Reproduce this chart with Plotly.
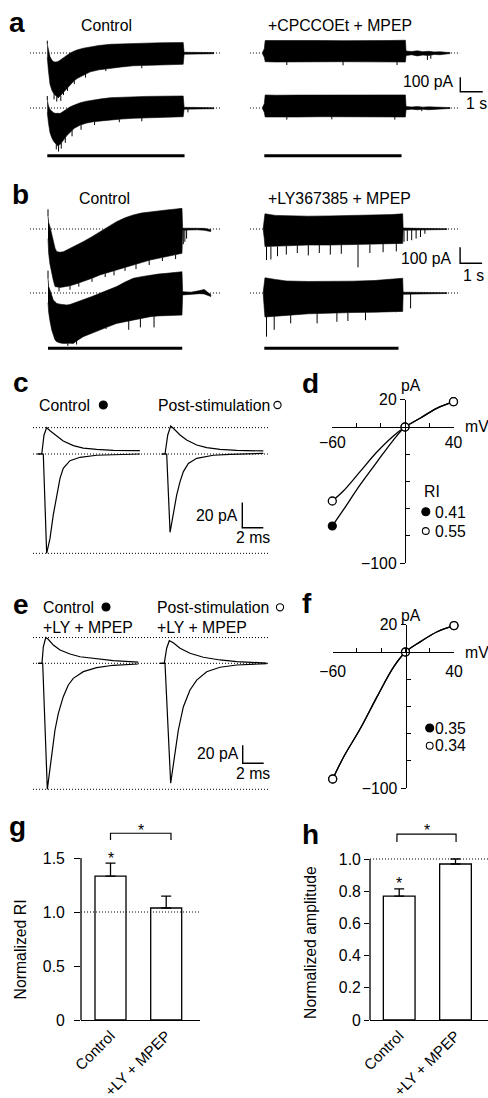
import numpy as np
import plotly.graph_objects as go

W, H = 488, 1098
FONT = "Liberation Sans, Arial, Helvetica, sans-serif"
BLK = "black"
FS = 15.8      # text size
LS = 28        # panel letter size

# ======================= DATA =======================
# Panels a/b: sweep envelopes (time in s after stimulus onset, current in pA)
STIM = [0.0, 6.1]          # stimulation period (s)

a1_t = [0.00, 0.05, 0.12, 0.20, 0.28, 0.36, 0.45, 0.55, 0.65, 0.75, 0.87, 1.00, 1.15, 1.32, 1.60, 1.91, 2.30, 2.80, 3.30, 3.82, 4.40, 5.00, 5.50, 6.04, 6.08, 6.50, 7.00, 7.40]
a1_up = [60, 20, -25, -48, -60, -62, -60, -52, -40, -28, -14, -2, 10, 21, 33, 43, 52, 60, 64, 67, 68, 70, 71, 72, 5, 5, 4, 3]
a1_lo = [-30, -120, -215, -255, -280, -295, -305, -300, -285, -262, -244, -222, -198, -176, -152, -130, -116, -106, -96, -88, -86, -83, -80, -78, -8, -8, -6, -5]
a1_spk_t = [0.00, 0.30, 0.42, 0.50, 0.60, 0.72, 0.90, 1.20, 1.70, 2.60, 4.20]
a1_spk_v = [85, -320, -335, -310, -330, -290, -262, -215, -170, -125, -105]

a2_t = [0.00, 0.05, 0.12, 0.20, 0.28, 0.36, 0.45, 0.58, 0.72, 0.87, 1.02, 1.20, 1.47, 1.75, 2.06, 2.40, 2.80, 3.30, 3.82, 4.40, 5.00, 5.50, 6.04, 6.08, 6.50, 7.00, 7.40]
a2_up = [55, 15, -10, -25, -33, -37, -38, -37, -22, -4, 8, 20, 37, 47, 57, 63, 71, 75, 78, 80, 81, 82, 83, 5, 4, 3, 2]
a2_lo = [-30, -100, -170, -205, -230, -244, -260, -250, -221, -190, -164, -140, -117, -104, -94, -88, -83, -76, -71, -68, -64, -62, -60, -8, -7, -6, -5]
a2_spk_t = [0.00, 0.40, 0.50, 0.62, 0.80, 1.10, 1.50, 2.10, 3.20, 4.20, 6.25]
a2_spk_v = [83, -285, -300, -280, -240, -195, -150, -118, -98, -92, -30]

a3_t = [-0.08, 0.00, 0.04, 0.50, 1.50, 2.50, 3.50, 4.50, 5.50, 6.27, 6.30, 6.55, 6.80, 7.05, 7.30, 7.55, 7.80, 8.05, 8.25]
a3_up = [3, 30, 86, 85, 84, 86, 85, 84, 86, 88, 14, 10, 15, 9, 12, 7, 9, 5, 3]
a3_lo = [-5, -30, -60, -62, -60, -62, -60, -61, -60, -62, -18, -12, -20, -14, -18, -10, -12, -8, -4]
a3_spk_t = [1.00, 3.50, 5.90, 7.25, 7.40]
a3_spk_v = [-83, -85, -83, -48, -40]

a4_t = a3_t
a4_up = [3, 30, 90, 88, 89, 90, 88, 89, 90, 90, 10, 7, 10, 6, 8, 5, 6, 4, 3]
a4_lo = [-5, -30, -62, -60, -62, -60, -62, -60, -61, -62, -12, -8, -12, -9, -12, -7, -8, -5, -4]
a4_spk_t = [1.00, 3.00, 5.80, 7.00]
a4_spk_v = [-80, -78, -80, -22]

b1_t = [0.00, 0.03, 0.09, 0.17, 0.24, 0.32, 0.40, 0.55, 0.70, 0.85, 1.00, 1.30, 1.60, 2.00, 2.36, 2.75, 3.12, 3.50, 3.88, 4.25, 4.64, 5.00, 5.40, 5.75, 6.09, 6.12, 6.40, 6.80, 7.10, 7.40]
b1_up = [80, 40, 14, -40, -89, -120, -142, -145, -142, -132, -120, -100, -79, -48, -17, 15, 46, 70, 88, 100, 108, 114, 119, 124, 129, 5, 6, 6, 4, -4]
b1_lo = [-60, -152, -220, -277, -320, -360, -362, -365, -362, -360, -355, -342, -330, -308, -287, -272, -256, -240, -225, -210, -194, -183, -173, -162, -152, -10, -6, -5, -8, -16]
b1_spk_t = [0.00, 0.50, 1.00, 1.40, 2.00, 2.60, 3.00, 3.50, 4.00, 4.60, 5.20, 5.80, 6.15, 6.22, 6.30]
b1_spk_v = [123, -390, -380, -360, -330, -300, -290, -262, -250, -225, -200, -188, -95, -80, -60]

b2_t = [0.00, 0.03, 0.09, 0.17, 0.24, 0.32, 0.40, 0.55, 0.70, 0.85, 1.00, 1.15, 1.30, 1.60, 2.00, 2.36, 2.75, 3.12, 3.50, 3.88, 4.25, 4.64, 5.00, 5.40, 5.75, 6.09, 6.12, 6.50, 6.90, 7.10, 7.30, 7.40]
b2_up = [90, 40, 19, -20, -44, -55, -65, -70, -73, -75, -72, -65, -58, -44, -22, -2, 20, 40, 68, 92, 102, 112, 118, 123, 128, 133, 8, 5, 15, 22, 0, -10]
b2_lo = [-60, -120, -175, -231, -265, -294, -305, -312, -315, -315, -314, -315, -300, -273, -250, -231, -210, -190, -178, -169, -158, -148, -143, -140, -139, -138, -12, -8, -4, -6, -18, -22]
b2_spk_t = [0.00, 0.90, 1.30, 2.64, 3.67, 4.20, 4.82]
b2_spk_v = [140, -330, -322, -225, -230, -215, -215]

b3_t = [-0.05, 0.00, 0.03, 0.50, 1.00, 2.00, 3.00, 4.00, 5.00, 5.80, 6.29, 6.31, 7.00, 7.50, 8.30]
b3_up = [3, 60, 95, 85, 82, 80, 82, 84, 86, 90, 95, 6, 4, 3, 2]
b3_lo = [-3, -60, -110, -110, -105, -100, -100, -98, -95, -92, -90, -8, -6, -5, -3]
b3_spk_t = [0.10, 0.30, 0.60, 1.00, 1.50, 2.00, 2.50, 3.00, 3.50, 4.26, 4.80, 5.40, 6.00, 6.35, 6.50, 6.70, 6.90, 7.10, 7.30]
b3_spk_v = [-194, -190, -170, -160, -150, -165, -150, -160, -155, -240, -150, -145, -140, -80, -75, -70, -60, -50, -30]

b4_t = b3_t
b4_up = [3, 60, 95, 85, 75, 72, 72, 74, 78, 85, 92, 5, 4, 3, 2]
b4_lo = [-3, -100, -150, -145, -140, -130, -125, -122, -120, -118, -115, -8, -6, -5, -3]
b4_spk_t = [0.10, 0.45, 1.20, 2.40, 3.30, 3.80, 4.60, 6.00, 6.65]
b4_spk_v = [-273, -230, -190, -190, -180, -175, -170, -120, -96]

# Panel c: EPSCs (time ms, current pA) at -60 mV (neg) and +40 mV (pos)
c_ctl_neg_t = [-0.57, 0, 0.32, 0.64, 0.95, 1.27, 1.59, 1.90, 2.54, 3.50, 5.08, 6.67, 9.2]
c_ctl_neg = [0, 0, -78.4, -66.6, -48.1, -32.4, -19.2, -11.3, -5.3, -2.6, -1.0, -0.6, 0]
c_ctl_pos_t = [-0.57, -0.15, 0.07, 0.32, 0.64, 1.27, 1.90, 2.86, 3.81, 5.08, 6.67, 9.2]
c_ctl_pos = [0, 0, 15, 20.8, 18.4, 14.2, 10.3, 6.6, 4.7, 3.7, 2.9, 2.6]
c_post_neg_t = [-0.48, 0, 0.32, 0.63, 0.95, 1.27, 1.59, 2.06, 2.86, 4.44, 6.03, 9.2]
c_post_neg = [0, 0, -61.8, -48.1, -32.4, -21.8, -13.9, -7.4, -3.4, -1.0, -0.3, 0.5]
c_post_pos_t = [-0.48, -0.16, 0.10, 0.38, 0.63, 1.27, 1.90, 2.86, 3.81, 5.08, 6.67, 9.2]
c_post_pos = [0, 0, 15, 22.1, 20.3, 15, 11, 7.1, 5, 3.7, 2.9, 2.4]

# Panel e: EPSCs with LY367385 + MPEP
e_ctl_neg_t = [-0.42, 0, 0.44, 0.86, 1.17, 1.49, 1.96, 2.44, 2.91, 3.87, 5.14, 6.72, 9.1]
e_ctl_neg = [0, 0, -140, -103.8, -74.1, -55.6, -37.1, -24.1, -16.7, -9.3, -4.9, -2.2, -0.8]
e_ctl_pos_t = [-0.42, -0.07, 0.06, 0.29, 0.53, 1.01, 1.65, 2.60, 3.55, 5.14, 6.72, 9.1]
e_ctl_pos = [0, 0, 18.4, 28.6, 26.7, 20.3, 14.8, 10.3, 7.3, 4.8, 2.9, 1.4]
e_post_neg_t = [-0.48, 0, 0.54, 0.95, 1.27, 1.75, 2.38, 3.02, 3.97, 5.24, 6.83, 9.68]
e_post_neg = [0, 0, -133.3, -100, -74.1, -48.2, -29.6, -18.6, -9.3, -4.4, -1.9, -0.4]
e_post_pos_t = [-0.48, -0.07, 0.16, 0.41, 0.79, 1.43, 2.38, 3.65, 5.24, 6.83, 9.68]
e_post_pos = [0, 0, 16.7, 25.1, 22.9, 16.7, 11.1, 6.7, 3.7, 1.8, 0.3]

# Panels d/f: I-V relations (mV, pA)
iv_mv = [-60, -50.9, -37.1, -23.4, -9.6, 0, 12.4, 26.1, 40]
d_ctl = [-72.8, -61, -42.6, -26, -9.6, 0, 6.4, 13.7, 18.6]
d_post = [-54.4, -47.1, -32.8, -18.6, -6.6, 0, 6.4, 13.7, 18.6]
f_ctl = [-93.4, -77, -56.1, -32.8, -10.8, 0, 7.6, 14.9, 19.4]
f_post = [-93.4, -77, -56.1, -32.8, -10.8, 0, 7.6, 14.9, 19.4]
pt_mv = [-60, 0, 40]
d_ctl_pts = [-72.8, 0, 18.6]
d_post_pts = [-54.4, 0, 18.6]
f_ctl_pts = [-93.4, 0, 19.4]
f_post_pts = [-93.4, 0, 19.4]
d_RI = ["0.41", "0.55"]
f_RI = ["0.35", "0.34"]

# Panels g/h: bars
groups = ["Control", "+LY + MPEP"]
g_val = [1.333, 1.037]
g_err = [0.12, 0.11]
h_val = [0.77, 0.969]
h_err = [0.045, 0.031]

# ======================= HELPERS =======================
def xdom(p0, p1):
    return [p0 / W, p1 / W]

def ydom(top, bot):
    return [1 - bot / H, 1 - top / H]

def xrng(p0, p1, pref, vref, s):
    return [vref + (p0 - pref) / s, vref + (p1 - pref) / s]

def yrng(top, bot, pref, vref, s):
    return [vref - (bot - pref) / s, vref + (pref - top) / s]

layout = {}
traces = []
shapes = []
annotations = []

def add_axes(n, xbox, ybox, xr, yr):
    s = "" if n == 1 else str(n)
    layout["xaxis" + s] = dict(domain=xdom(*xbox), range=xr, anchor="y" + s, visible=False,
                               fixedrange=True, automargin=False)
    layout["yaxis" + s] = dict(domain=ydom(*ybox), range=yr, anchor="x" + s, visible=False,
                               fixedrange=True, automargin=False)

def refs(n):
    s = "" if n == 1 else str(n)
    return "x" + s, "y" + s

def sweep(n, t, up, lo, spk_t, spk_v, span):
    xa, ya = refs(n)
    traces.append(go.Scatter(x=span, y=[0, 0], mode="lines", xaxis=xa, yaxis=ya,
                             line=dict(color=BLK, width=1, dash="1px,2px")))
    traces.append(go.Scatter(x=t + t[::-1], y=up + lo[::-1], mode="lines", fill="toself",
                             fillcolor=BLK, line=dict(color=BLK, width=0.6), xaxis=xa, yaxis=ya))
    xs, ys = [], []
    for tt, v in zip(spk_t, spk_v):
        base = float(np.interp(tt, t, up if v > 0 else lo))
        xs += [tt, tt, None]
        ys += [base, v, None]
    traces.append(go.Scatter(x=xs, y=ys, mode="lines", line=dict(color=BLK, width=1), xaxis=xa, yaxis=ya))

def line_tr(n, x, y, w=1.2):
    xa, ya = refs(n)
    traces.append(go.Scatter(x=x, y=y, mode="lines", line=dict(color=BLK, width=w), xaxis=xa, yaxis=ya))

def txt(s, x, y, size=FS, xa="left", ya="middle", bold=False, angle=0):
    annotations.append(dict(text=("<b>%s</b>" % s) if bold else s, x=x / W, y=1 - y / H,
                            xref="paper", yref="paper", xanchor=xa, yanchor=ya, showarrow=False,
                            textangle=angle, font=dict(family=FONT, size=size, color=BLK)))

def dot(cx, cy, r, filled):
    shapes.append(dict(type="circle", xref="paper", yref="paper",
                       x0=(cx - r) / W, x1=(cx + r) / W, y0=1 - (cy + r) / H, y1=1 - (cy - r) / H,
                       line=dict(color=BLK, width=1.1), fillcolor=BLK if filled else "white"))

def stim_bar(n, ypx):
    xa, _ = refs(n)
    shapes.append(dict(type="line", xref=xa, yref="paper", x0=STIM[0], x1=STIM[1],
                       y0=1 - ypx / H, y1=1 - ypx / H, line=dict(color=BLK, width=3)))

def scale_bar(n, x0, y0, dx, dy):
    xa, ya = refs(n)
    shapes.append(dict(type="path", xref=xa, yref=ya,
                       path="M %f,%f L %f,%f L %f,%f" % (x0, y0 + dy, x0, y0, x0 + dx, y0),
                       line=dict(color=BLK, width=1.4)))

# ======================= PANELS a / b =======================
AXS, AYS = 22.5, 0.145   # px per s, px per pA (panel a)
BXS, BYS = 22.0, 0.16    # panel b
L, R = (30, 222), (246, 486)

add_axes(1, L, (34, 104), xrng(*L, 47.3, 0, AXS), yrng(34, 104, 53, 0, AYS))
add_axes(2, L, (88, 160), xrng(*L, 47.3, 0, AXS), yrng(88, 160, 108, 0, AYS))
add_axes(3, R, (34, 96), xrng(*R, 264.3, 0, AXS), yrng(34, 96, 53, 0, AYS))
add_axes(4, R, (86, 160), xrng(*R, 264.3, 0, AXS), yrng(86, 160, 108, 0, AYS))
add_axes(5, L, (204, 292), xrng(*L, 48, 0, BXS), yrng(204, 292, 229, 0, BYS))
add_axes(6, L, (262, 352), xrng(*L, 48, 0, BXS), yrng(262, 352, 293, 0, BYS))
add_axes(7, R, (204, 272), xrng(*R, 264.3, 0, BXS), yrng(204, 272, 229, 0, BYS))
add_axes(8, R, (268, 352), xrng(*R, 264.3, 0, BXS), yrng(268, 352, 293, 0, BYS))

spanAL, spanAR = [-0.77, 7.76], [-0.64, 8.7]
spanBL, spanBR = [-0.82, 7.9], [-0.65, 8.9]
sweep(1, a1_t, a1_up, a1_lo, a1_spk_t, a1_spk_v, spanAL)
sweep(2, a2_t, a2_up, a2_lo, a2_spk_t, a2_spk_v, spanAL)
sweep(3, a3_t, a3_up, a3_lo, a3_spk_t, a3_spk_v, spanAR)
sweep(4, a4_t, a4_up, a4_lo, a4_spk_t, a4_spk_v, spanAR)
sweep(5, b1_t, b1_up, b1_lo, b1_spk_t, b1_spk_v, spanBL)
sweep(6, b2_t, b2_up, b2_lo, b2_spk_t, b2_spk_v, spanBL)
sweep(7, b3_t, b3_up, b3_lo, b3_spk_t, b3_spk_v, spanBR)
sweep(8, b4_t, b4_up, b4_lo, b4_spk_t, b4_spk_v, spanBR)

stim_bar(2, 155.7); stim_bar(4, 155.7)
stim_bar(6, 348.3); stim_bar(8, 348.3)
scale_bar(3, 8.71, -267, 1, 100)
scale_bar(7, 8.9, -214, 1, 100)

txt("a", 7, 23, size=LS, bold=True)
txt("Control", 79, 26)
txt("+CPCCOEt + MPEP", 265.5, 26)
txt("100 pA", 456, 81.5, xa="right")
txt("1 s", 464, 103.5)
txt("b", 10, 195, size=LS, bold=True)
txt("Control", 76.5, 199)
txt("+LY367385 + MPEP", 265.5, 199)
txt("100 pA", 454, 258, xa="right")
txt("1 s", 461, 275)

# ======================= PANELS c / e =======================
CXS, CYS = 10.5, 1.267
EYS = 0.9
add_axes(9, (33, 160), (420, 560), xrng(33, 160, 43.3, 0, CXS), yrng(420, 560, 454, 0, CYS))
add_axes(10, (160, 272), (420, 560), xrng(160, 272, 166.7, 0, CXS), yrng(420, 560, 454, 0, CYS))
add_axes(11, (33, 160), (628, 797), xrng(33, 160, 42.7, 0, CXS), yrng(628, 797, 663.3, 0, EYS))
add_axes(12, (160, 272), (628, 797), xrng(160, 272, 165, 0, CXS), yrng(628, 797, 663.3, 0, EYS))

for n, lv in ((9, [max(c_ctl_pos), 0, min(c_ctl_neg)]), (11, [max(e_ctl_pos), 0, min(e_ctl_neg)])):
    for v in lv:
        shapes.append(dict(type="line", xref="paper", yref="y%d" % n, x0=33 / W, x1=270 / W, y0=v, y1=v,
                           line=dict(color=BLK, width=1, dash="1px,2px")))

line_tr(9, c_ctl_neg_t, c_ctl_neg); line_tr(9, c_ctl_pos_t, c_ctl_pos)
line_tr(10, c_post_neg_t, c_post_neg); line_tr(10, c_post_pos_t, c_post_pos)
line_tr(11, e_ctl_neg_t, e_ctl_neg); line_tr(11, e_ctl_pos_t, e_ctl_pos)
line_tr(12, e_post_neg_t, e_post_neg); line_tr(12, e_post_pos_t, e_post_pos)
scale_bar(10, 7.2, -58.2, 2, 20)
scale_bar(12, 7.4, -111, 2, 20)

txt("c", 11, 382, size=LS, bold=True)
txt("Control", 37, 405)
dot(103.3, 405, 4, True)
txt("Post-stimulation", 155.5, 405)
dot(277.5, 405, 3.6, False)
txt("20 pA", 240, 515, xa="right")
txt("2 ms", 234, 537)

txt("e", 11, 604, size=LS, bold=True)
txt("Control", 40.5, 607)
dot(106, 607, 4, True)
txt("+LY + MPEP", 40.5, 627)
txt("Post-stimulation", 155, 607)
dot(280, 607.3, 3.6, False)
txt("+LY + MPEP", 155, 627)
txt("20 pA", 241, 753, xa="right")
txt("2 ms", 234, 773)

# ======================= PANELS d / f =======================
def iv_panel(n, xpx, ypx, zero_x, zero_y, ctl, post, ctl_pts, post_pts, x_stand):
    s = str(n); so = str(n + 1)
    tf = dict(family=FONT, size=FS, color=BLK)
    layout["xaxis" + s] = dict(domain=xdom(*xpx), range=[-60, 40], anchor="free", position=1 - zero_y / H,
                               showline=True, linecolor=BLK, linewidth=1.3, ticks="inside", ticklen=4,
                               tickwidth=1.3, tickcolor=BLK, tickvals=[-60, -40, -20, 0, 20, 40],
                               ticktext=["\u221260", "", "", "", "", "40"], tickfont=tf, showgrid=False,
                               zeroline=False, fixedrange=True, ticklabelstandoff=x_stand, automargin=False)
    layout["yaxis" + s] = dict(domain=ydom(*ypx), range=[-100, 20], anchor="free", position=zero_x / W,
                               showline=True, linecolor=BLK, linewidth=1.3, ticks="outside", ticklen=5,
                               tickwidth=1.3, tickcolor=BLK, tickvals=[20, -100], ticktext=["20", "\u2212100"],
                               tickfont=tf, showgrid=False, zeroline=False, fixedrange=True,
                               ticklabelstandoff=0, automargin=False)
    layout["yaxis" + so] = dict(overlaying="y" + s, anchor="free", position=zero_x / W, range=[-100, 20],
                                ticks="inside", ticklen=4, tickwidth=1.3, tickcolor=BLK,
                                tickvals=[-20, -40, -60, -80], showticklabels=False, showline=False,
                                showgrid=False, zeroline=False, fixedrange=True, automargin=False)
    xa, ya, yo = "x" + s, "y" + s, "y" + so
    traces.append(go.Scatter(x=[0], y=[0], mode="markers", marker=dict(opacity=0), xaxis=xa, yaxis=yo))
    traces.append(go.Scatter(x=iv_mv, y=ctl, mode="lines", line=dict(color=BLK, width=1.3, shape="spline"),
                             xaxis=xa, yaxis=ya))
    traces.append(go.Scatter(x=iv_mv, y=post, mode="lines", line=dict(color=BLK, width=1.3, shape="spline"),
                             xaxis=xa, yaxis=ya))
    traces.append(go.Scatter(x=pt_mv, y=ctl_pts, mode="markers", cliponaxis=False, xaxis=xa, yaxis=ya,
                             marker=dict(symbol="circle", size=8, color=BLK, line=dict(color=BLK, width=1.2))))
    traces.append(go.Scatter(x=pt_mv, y=post_pts, mode="markers", cliponaxis=False, xaxis=xa, yaxis=ya,
                             marker=dict(symbol="circle", size=8, color="white", line=dict(color=BLK, width=1.3))))

iv_panel(13, (332.3, 453.5), (399.8, 563), 405, 427, d_ctl, d_post, d_ctl_pts, d_post_pts, 1)
iv_panel(15, (332.7, 454), (624.8, 788), 405.7, 652, f_ctl, f_post, f_ctl_pts, f_post_pts, 5)

txt("d", 300, 384, size=LS, bold=True)
txt("pA", 399, 385.5)
txt("mV", 463, 427)
txt("RI", 422, 491.7)
dot(425.8, 511.7, 4, True); txt(d_RI[0], 432.5, 512)
dot(425.8, 531, 3.4, False); txt(d_RI[1], 432.5, 531)

txt("f", 300, 603, size=LS, bold=True)
txt("pA", 399, 615)
txt("mV", 463, 652)
dot(429.7, 728, 4, True); txt(f_RI[0], 433, 728)
dot(429.7, 745.7, 3.4, False); txt(f_RI[1], 433, 745.7)

# ======================= PANELS g / h =======================
def bar_panel(n, xpx, top_px, bot_px, px_per_unit, c0_px, c1_px, bar_w_px, vals, errs,
              ymax_line, tickvals, ticktext, ystand, star_y, br_x, br_y, br_leg, br_star_y, tlen):
    s = str(n)
    per = c1_px - c0_px
    xr = [(xpx[0] - c0_px) / per, 1 + (xpx[1] - c1_px) / per]
    yr = [0, (bot_px - top_px) / px_per_unit]
    tf = dict(family=FONT, size=FS, color=BLK)
    layout["xaxis" + s] = dict(domain=xdom(*xpx), range=xr, anchor="y" + s, showline=True, linecolor=BLK,
                               linewidth=1.3, ticks="", tickvals=[0, 1], ticktext=groups, tickangle=-45,
                               tickfont=dict(family=FONT, size=15, color=BLK), showgrid=False,
                               zeroline=False, fixedrange=True, automargin=False)
    layout["yaxis" + s] = dict(domain=ydom(top_px, bot_px), range=yr, anchor="x" + s, showline=False,
                               ticks="outside", ticklen=tlen, tickwidth=1.3, tickcolor=BLK,
                               tickvals=tickvals, ticktext=ticktext, tickfont=tf, showgrid=False,
                               zeroline=False, fixedrange=True, ticklabelstandoff=ystand, automargin=False)
    xa, ya = "x" + s, "y" + s
    traces.append(go.Bar(x=[0, 1], y=vals, width=bar_w_px / per, xaxis=xa, yaxis=ya,
                         marker=dict(color="white", line=dict(color=BLK, width=1.3)),
                         error_y=dict(type="data", array=errs, arrayminus=[0, 0], symmetric=False,
                                      color=BLK, thickness=1.3, width=5)))
    shapes.append(dict(type="line", xref=xa + " domain", yref=ya, x0=0, x1=0, y0=0, y1=ymax_line,
                       line=dict(color=BLK, width=1.3)))
    shapes.append(dict(type="line", xref=xa + " domain", yref=ya, x0=0, x1=1, y0=1.0, y1=1.0,
                       line=dict(color=BLK, width=1, dash="1px,2px")))
    shapes.append(dict(type="path", xref=xa, yref=ya,
                       path="M %f,%f L %f,%f L %f,%f L %f,%f" % (br_x[0], br_leg, br_x[0], br_y, br_x[1], br_y,
                                                                 br_x[1], br_leg),
                       line=dict(color=BLK, width=1.2)))
    for x, y in ((0, star_y), ((br_x[0] + br_x[1]) / 2, br_star_y)):
        annotations.append(dict(text="*", x=x, y=y, xref=xa, yref=ya, showarrow=False, yshift=-4,
                                font=dict(family=FONT, size=FS, color=BLK)))

bar_panel(17, (81, 200), 815, 1020, 108, 110.5, 166.2, 31, g_val, g_err, 1.5,
          [0, 0.5, 1.0, 1.5], ["0", "0.5", "1.0", "1.5"], 6, 1.528, [0, 1.086], 1.729, 1.667, 1.79, 6)
bar_panel(18, (370, 488), 815, 1020, 161, 399.2, 455.5, 31.7, h_val, h_err, 1.0,
          [0, 0.2, 0.4, 0.6, 0.8, 1.0], ["0", "0.2", "0.4", "0.6", "0.8", "1.0"], 0, 0.87,
          [-0.04, 1.01], 1.155, 1.106, 1.199, 5)

txt("g", 7, 826, size=LS, bold=True)
txt("h", 300, 834, size=LS, bold=True)
txt("Normalized RI", 19.5, 950, xa="center", angle=-90)
txt("Normalized amplitude", 310, 943, xa="center", angle=-90)

# ======================= FIGURE =======================
fig = go.Figure(data=traces)
fig.update_layout(template="none")
fig.update_layout(**layout)
fig.update_layout(width=W, height=H, margin=dict(l=0, r=0, t=0, b=0, pad=0, autoexpand=False),
                  showlegend=False, paper_bgcolor="white", plot_bgcolor="rgba(0,0,0,0)", hovermode=False,
                  shapes=shapes, annotations=annotations, font=dict(family=FONT, size=FS, color=BLK))
fig.write_html("out.html", config={"displayModeBar": False},
               post_script="document.body.style.margin='0px';document.body.style.padding='0px';"
                           "document.body.style.overflow='hidden';")
